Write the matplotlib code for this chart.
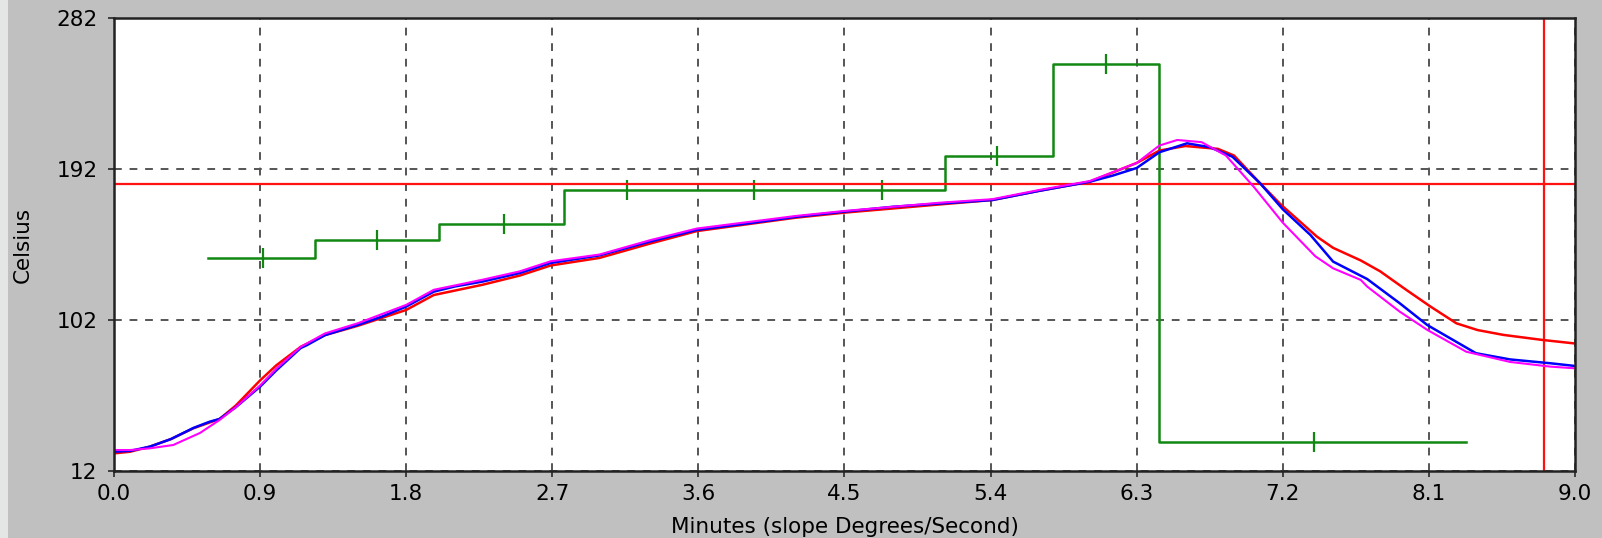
import matplotlib
matplotlib.use("Agg")
import matplotlib.pyplot as plt
from matplotlib.patches import Rectangle

plt.rcParams['font.family'] = ['DejaVu Sans']

# profile curves (minutes, celsius)
blue_t = [0.0, 0.1, 0.22, 0.35, 0.49, 0.59, 0.65, 0.75, 0.9, 1.0, 1.15, 1.19, 1.3, 1.5, 1.65, 1.8,
          1.97, 2.1, 2.27, 2.5, 2.69, 2.99, 3.3, 3.59, 3.9, 4.2, 4.5, 4.8, 5.1, 5.41, 5.7, 6.01,
          6.15, 6.3, 6.44, 6.61, 6.75, 6.89, 7.06, 7.2, 7.37, 7.51, 7.72, 7.92, 8.09, 8.39, 8.6,
          8.85, 9.0]
blue_c = [23.5, 24.0, 26.5, 31, 37.7, 41.4, 43, 50, 62.3, 72, 85.3, 87.1, 93, 99, 104, 110,
          118.9, 122, 124.9, 130, 136, 140.5, 148.7, 155.7, 159.5, 163.5, 166.6, 169.5, 171.5,
          173.5, 179, 184.4, 188, 192.6, 202, 207.3, 205, 199.3, 183.5, 168, 152.7, 136.8, 126.4,
          112, 99, 82.2, 78.5, 76.2, 74.6]

red_t = [0.0, 0.1, 0.22, 0.35, 0.49, 0.65, 0.75, 0.9, 1.0, 1.15, 1.3, 1.5, 1.8, 1.97, 2.27, 2.5,
         2.69, 2.99, 3.3, 3.59, 4.2, 4.5, 5.1, 5.41, 5.7, 6.01, 6.3, 6.44, 6.6, 6.8, 6.9, 7.06,
         7.19, 7.41, 7.51, 7.68, 7.8, 7.96, 8.11, 8.27, 8.4, 8.56, 8.8, 9.0]
red_c = [22.5, 23.5, 26.5, 31, 37.5, 43, 51, 66, 75, 86, 93, 98.5, 108, 116.9, 123, 128.5,
         134.5, 139, 147.5, 155, 163, 166, 171, 173.5, 179, 184.4, 195.6, 203, 205.7, 204, 200,
         183.5, 170.6, 151.7, 145, 137.5, 131, 120, 110, 100, 96, 93.1, 90.1, 88]

mag_t = [0.0, 0.1, 0.22, 0.365, 0.53, 0.65, 0.75, 0.9, 1.0, 1.15, 1.3, 1.5, 1.8, 1.97, 2.27, 2.5,
         2.69, 2.99, 3.3, 3.59, 4.2, 4.5, 5.1, 5.41, 5.7, 6.01, 6.3, 6.44, 6.55, 6.7, 6.85, 7.02,
         7.2, 7.4, 7.51, 7.68, 7.72, 7.92, 8.09, 8.33, 8.6, 8.85, 9.0]
mag_c = [24.5, 24.5, 25.5, 27.5, 34.7, 42.4, 50, 63, 73, 86, 94, 100, 111, 120, 126, 131,
         137, 141, 149.5, 156.5, 164, 167, 172, 174, 179.5, 184.8, 195.6, 206, 209.3, 208, 200,
         181.5, 160, 140, 132.8, 125.9, 121.9, 107, 96.1, 83.1, 77, 74.2, 73.2]

# slope steps
zone_t = [0.58, 1.238, 2.0, 2.77, 5.12, 5.787, 6.44, 8.33]
zone_c = [139, 149.7, 159.3, 179.5, 200, 254.3, 29.5, 29.5]
mark_t = [0.92, 1.62, 2.40, 3.16, 3.94, 4.73, 5.44, 6.11, 7.39]
mark_c = [139, 149.7, 159.3, 179.5, 179.5, 179.5, 200, 254.3, 29.5]

limit_c = 183
limit_t = 8.81

xticks = [0.0, 0.9, 1.8, 2.7, 3.6, 4.5, 5.4, 6.3, 7.2, 8.1, 9.0]
yticks = [12, 102, 192, 282]

fig = plt.figure(figsize=(16.02, 5.38), dpi=100, facecolor='#c0c0c0')
fig.patches.append(Rectangle((0, 0), 8 / 1602, 1, transform=fig.transFigure,
                             facecolor='#e4e6e6', edgecolor='none'))
ax = fig.add_axes([114 / 1602, 67 / 538, 1461 / 1602, 453 / 538])
ax.set_facecolor('white')

ax.set_xlim(0, 9.0)
ax.set_ylim(12, 282)
ax.set_xticks(xticks)
ax.set_xticklabels([f'{v:.1f}' for v in xticks])
ax.set_yticks(yticks)
ax.grid(True, color='#555555', lw=1.4, linestyle=(0, (4, 4)))
ax.tick_params(direction='out', length=4, width=1.3, color='#333333', labelsize=15.5)
ax.tick_params(axis='x', pad=5)
ax.tick_params(axis='y', pad=8)

ax.step(zone_t, zone_c, where='post', color='#118811', lw=1.8)
ax.plot(mark_t, mark_c, linestyle='none', marker='|', markersize=15, mew=1.6, color='#118811')

ax.axhline(limit_c, color='#ff1111', lw=1.6)
ax.axvline(limit_t, color='#ff1111', lw=1.6)

ax.plot(red_t, red_c, color='#ff0000', lw=1.8)
ax.plot(blue_t, blue_c, color='#0000ff', lw=1.8)
ax.plot(mag_t, mag_c, color='#ff00ff', lw=1.5)

for s in ax.spines.values():
    s.set_linewidth(1.8)
    s.set_color('#222222')

ax.set_xlabel('Minutes (slope Degrees/Second)', fontsize=15.5)
ax.set_ylabel('Celsius', fontsize=15.5)
ax.xaxis.set_label_coords(0.5, -0.102)
ax.yaxis.set_label_coords(-0.0555, 0.5)

fig.savefig('out.png', dpi=100, facecolor=fig.get_facecolor())
